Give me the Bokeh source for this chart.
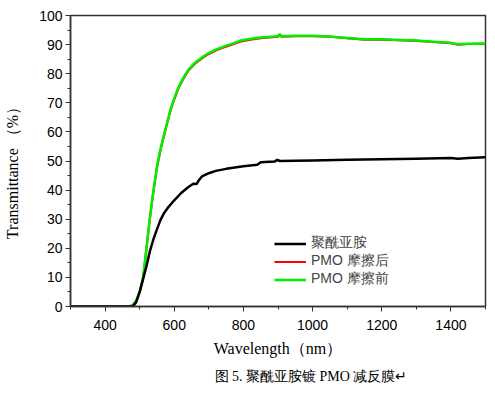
from bokeh.plotting import figure
from bokeh.models import FixedTicker, Legend, LegendItem, Title, Range1d
from bokeh.embed import file_html
from bokeh.resources import INLINE

# Wavelength (nm) and transmittance (%)
wl_pmo = [300, 470, 480, 490, 500, 510, 520, 530, 540, 550, 560, 570, 580, 590, 600,
          610, 620, 630, 640, 660, 680, 700, 720, 740, 760, 790, 820, 850, 900, 905, 910, 950,
          1000, 1050, 1100, 1150, 1200, 1250, 1300, 1350, 1400, 1420, 1450, 1500]
t_before = [0, 0, 0.5, 2, 5, 10, 20.5, 31, 40, 48, 54, 58.8, 63.5, 68, 71.5,
            74.7, 77.2, 79.3, 81.2, 83.8, 85.6, 87.1, 88.3, 89.2, 90, 91.3, 92, 92.4, 92.9, 93.6, 92.9, 93,
            93, 92.8, 92.3, 91.8, 91.8, 91.6, 91.4, 91, 90.6, 90.1, 90.3, 90.4]
t_after = [0, 0, 0.5, 2, 4.9, 9.8, 20.2, 30.7, 39.7, 47.7, 53.7, 58.5, 63.2, 67.7, 71.2,
           74.4, 76.9, 79.0, 80.9, 83.5, 85.3, 86.8, 88.0, 88.9, 89.7, 91.0, 91.7, 92.2, 92.7, 93.4, 92.7, 92.9,
           92.9, 92.7, 92.2, 91.7, 91.7, 91.5, 91.3, 90.9, 90.5, 90.0, 90.2, 90.3]

wl_pi = [300, 480, 490, 500, 510, 520, 530, 540, 550, 560, 570, 580, 600, 620,
         640, 655, 665, 670, 680, 700, 720, 750, 800, 840, 850, 890, 898, 905,
         950, 1000, 1100, 1200, 1300, 1400, 1420, 1450, 1500]
t_pi = [0, 0, 1.5, 5, 9.5, 14, 19.2, 23.2, 26.5, 29.7, 32, 33.7, 36.5, 39,
        41, 42.2, 42.1, 43.2, 44.7, 45.8, 46.6, 47.3, 48.2, 48.7, 49.6, 49.8, 50.4, 50,
        50.1, 50.2, 50.4, 50.6, 50.8, 51, 50.8, 51, 51.3]

x_major = [400, 600, 800, 1000, 1200, 1400]
x_minor = [300, 500, 700, 900, 1100, 1300, 1500]
y_major = [0, 10, 20, 30, 40, 50, 60, 70, 80, 90, 100]
y_minor = [5, 15, 25, 35, 45, 55, 65, 75, 85, 95]

labels = ["聚酰亚胺", "PMO 摩擦后", "PMO 摩擦前"]

p = figure(width=495, height=394, output_backend="svg", toolbar_location=None,
           x_range=Range1d(300, 1500), y_range=Range1d(0, 100),
           frame_width=415, frame_height=291,
           min_border_left=70, min_border_right=10, min_border_top=15, min_border_bottom=88)
p.background_fill_color = "white"
p.border_fill_color = "white"
p.outline_line_color = "#333333"
p.outline_line_width = 1.5
p.xgrid.visible = False
p.ygrid.visible = False

r_after = p.line(wl_pmo, t_after, line_color="#ff0000", line_width=2.2)
r_before = p.line(wl_pmo, t_before, line_color="#00ee00", line_width=2.5)
r_pi = p.line(wl_pi, t_pi, line_color="black", line_width=2.5)

for ax in (p.xaxis[0], p.yaxis[0]):
    ax.axis_line_color = "#333333"
    ax.axis_line_width = 1.5
    ax.major_tick_line_color = "#333333"
    ax.minor_tick_line_color = "#333333"
    ax.major_tick_out = 5
    ax.major_tick_in = 0
    ax.minor_tick_out = 3
    ax.minor_tick_in = 0
    ax.major_label_text_font = "Liberation Sans"
    ax.major_label_text_font_size = "14px"
    ax.major_label_text_color = "black"
    ax.axis_label_text_font = "Liberation Serif"
    ax.axis_label_text_font_style = "normal"
    ax.axis_label_text_font_size = "16px"
    ax.axis_label_text_color = "black"

p.xaxis[0].ticker = FixedTicker(ticks=x_major, minor_ticks=x_minor)
p.yaxis[0].ticker = FixedTicker(ticks=y_major, minor_ticks=y_minor)
p.xaxis[0].axis_label = "Wavelength（nm）"
p.yaxis[0].axis_label = "Transmittance （%）\u00a0\u00a0\u00a0\u00a0"
p.xaxis[0].major_label_standoff = 8
p.yaxis[0].major_label_standoff = 3
p.xaxis[0].axis_label_standoff = 7
p.yaxis[0].axis_label_standoff = 15

legend = Legend(items=[LegendItem(label=labels[0], renderers=[r_pi]),
                       LegendItem(label=labels[1], renderers=[r_after]),
                       LegendItem(label=labels[2], renderers=[r_before])],
                location=(204, 18), border_line_color=None, background_fill_alpha=0,
                padding=0, margin=0, spacing=0, glyph_width=32, glyph_height=17,
                label_height=17, label_standoff=5,
                label_text_font="Liberation Sans", label_text_font_size="14px")
p.add_layout(legend)

cap = Title(text="图 5. 聚酰亚胺镀 PMO 减反膜↵", align="left", offset=144,
            text_font="Liberation Serif", text_font_size="14px", text_font_style="normal",
            text_color="black", standoff=15)
p.add_layout(cap, "below")

open("out.html", "w").write(file_html(p, INLINE))
